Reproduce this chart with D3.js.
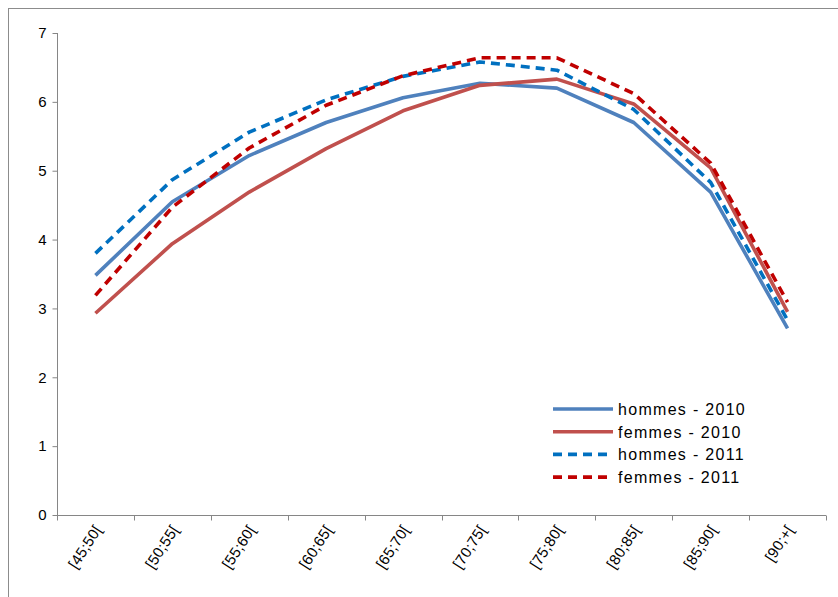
<!DOCTYPE html>
<html><head><meta charset="utf-8">
<script src="https://cdn.jsdelivr.net/npm/d3@7"></script>
<style>html,body{margin:0;padding:0;background:#fff;}svg{display:block;}</style>
</head><body>
<svg id="c" width="838" height="597"></svg>
<script>
const categories = ["[45;50[","[50;55[","[55;60[","[60;65[","[65;70[","[70;75[","[75;80[","[80;85[","[85;90[","[90;+["];
const hommes2010 = [3.48,4.55,5.22,5.70,6.06,6.27,6.20,5.70,4.69,2.71];
const femmes2010 = [2.93,3.94,4.69,5.32,5.87,6.24,6.33,5.97,5.04,2.95];
const hommes2011 = [3.80,4.87,5.56,6.03,6.37,6.58,6.46,5.89,4.83,2.83];
const femmes2011 = [3.19,4.47,5.33,5.95,6.38,6.64,6.64,6.12,5.11,3.09];
const yTicks = [0,1,2,3,4,5,6,7];
const seriesNames = ["hommes - 2010","femmes - 2010","hommes - 2011","femmes - 2011"];

const svg = d3.select("#c");
svg.append("rect").attr("x",8.5).attr("y",8.5).attr("width",840).attr("height",600)
  .attr("fill","#fff").attr("stroke","#8c8c8c").attr("stroke-width",1);

const x0 = 57, x1 = 826, yTop = 33, yBot = 515;
const x = d3.scaleBand().domain(categories).range([x0,x1]);
const y = d3.scaleLinear().domain([0,7]).range([yBot,yTop]);
const axisColor = "#868686";
const font = "'Liberation Sans', Arial, sans-serif";

// Y axis
const yAxis = d3.axisLeft(y).tickValues(yTicks).tickSize(5).tickPadding(6).tickFormat(d3.format("d"));
const gy = svg.append("g").attr("transform",`translate(${x0+0.5},0)`).call(yAxis);
gy.select(".domain").attr("stroke",axisColor).attr("d",`M0,${yBot}V${yTop}`);
gy.selectAll(".tick line").attr("stroke",axisColor);
gy.selectAll(".tick text").attr("font-family",font).attr("font-size",15).attr("fill","#000");

// X axis
const gx = svg.append("g").attr("transform",`translate(0,${yBot+0.5})`);
gx.append("path").attr("d",`M${x0},0H${x1}`).attr("stroke",axisColor).attr("fill","none");
const bounds = categories.map(c=>x(c)).concat([x1]);
gx.selectAll("line.t").data(bounds).enter().append("line")
  .attr("x1",d=>Math.round(d)+0.5).attr("x2",d=>Math.round(d)+0.5).attr("y1",0).attr("y2",5)
  .attr("stroke",axisColor);
gx.selectAll("text").data(categories).enter().append("text")
  .attr("transform",d=>`translate(${x(d)+x.bandwidth()/2+7},14) rotate(-57)`)
  .attr("text-anchor","end").attr("font-family",font).attr("font-size",15).attr("fill","#000")
  .attr("letter-spacing",0.3)
  .text(d=>d);

const series = [
  {name:seriesNames[0], data:hommes2010, color:"#4F81BD", dash:null},
  {name:seriesNames[1], data:femmes2010, color:"#C0504D", dash:null},
  {name:seriesNames[2], data:hommes2011, color:"#0070C0", dash:"9,6"},
  {name:seriesNames[3], data:femmes2011, color:"#C00000", dash:"9,6"}
];
const line = d3.line().x((d,i)=>x(categories[i])+x.bandwidth()/2).y(d=>y(d));
series.forEach(s=>{
  svg.append("path").datum(s.data).attr("d",line).attr("fill","none")
    .attr("stroke",s.color).attr("stroke-width",3.6).attr("stroke-linejoin","round")
    .attr("stroke-dasharray",s.dash);
});

// Legend
const lg = svg.append("g");
series.forEach((s,i)=>{
  const yy = 409 + i*22.7;
  lg.append("line").attr("x1",553).attr("x2",613).attr("y1",yy).attr("y2",yy)
    .attr("stroke",s.color).attr("stroke-width",3.6).attr("stroke-dasharray",s.dash);
  lg.append("text").attr("x",618).attr("y",yy+6).attr("font-family",font).attr("font-size",16)
    .attr("letter-spacing",1.3).attr("fill","#000").text(s.name);
});
</script>
</body></html>
